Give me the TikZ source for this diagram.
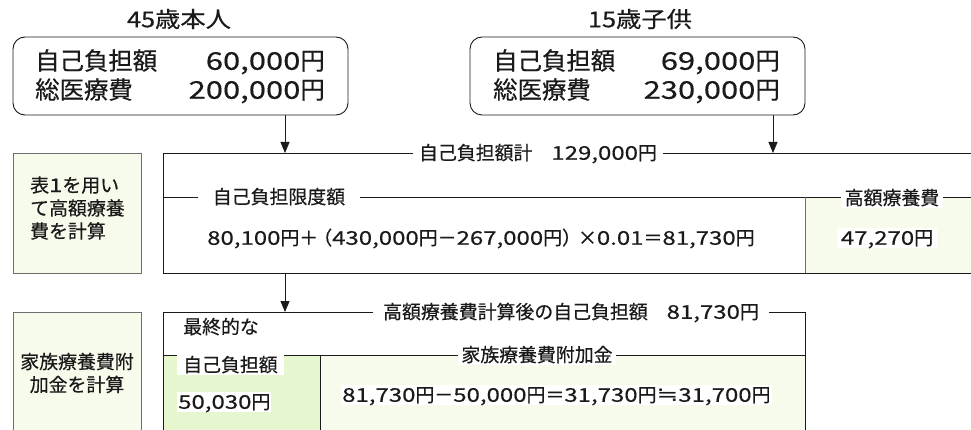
\documentclass[tikz,border=0pt]{standalone}
\usepackage{fontspec}
\setmainfont[FakeBold=0.4]{Noto Sans CJK JP}
\newfontfamily\dgfont[FakeStretch=1.27,FakeBold=0.4]{Noto Sans CJK JP}
\newfontfamily\ttlfont[FakeStretch=1.15,FakeBold=0.4]{Noto Sans CJK JP}
\newfontfamily\symfont[FakeStretch=1.3]{DejaVu Sans}
\newcommand\nm[1]{{\dgfont #1}}
\usetikzlibrary{arrows.meta}
\definecolor{lgreen}{HTML}{F7FBEC}
\definecolor{dgreen}{HTML}{E6F6CF}
\definecolor{gframe}{HTML}{6E6E6E}
\definecolor{ink}{HTML}{1A1A1A}
\begin{document}
\begin{tikzpicture}[x=1pt,y=-1pt,
  ttl/.style={font=\fontsize{22}{26}\ttlfont, inner sep=0pt, text=ink},
  big/.style={font=\fontsize{24.4}{28}\selectfont, inner sep=0pt, text height=21pt, text depth=3.5pt, text=ink},
  mid/.style={font=\fontsize{18.9}{23}\selectfont, inner sep=0pt, text height=16pt, text depth=2.5pt, text=ink},
  midml/.style={font=\fontsize{18.9}{23}\selectfont, inner sep=0pt, text=ink},
  lab/.style={mid, fill=white, inner xsep=5pt, inner ysep=1pt},
  ln/.style={draw=ink, line width=0.9pt},
  arr/.style={ln, -{Triangle[length=11pt,width=9pt]}},
  rbox/.style={ln, rounded corners=12pt, minimum width=335pt, minimum height=78pt, inner sep=0pt},
  side/.style={draw=gframe, line width=0.9pt, fill=lgreen, minimum width=128pt, inner sep=0pt, anchor=north west},
]
\useasboundingbox (0,0) rectangle (971,430);
\fill[white] (0,0) rectangle (971,430);

% top titles and boxes
\node[ttl] (t45) at (179,19) {45歳本人};
\node[ttl] (t15) at (640,19) {15歳子供};
\node[rbox] (b45) at (180.5,76) {};
\node[rbox] (b15) at (637.5,76) {};
\node[big, anchor=west] (b45a) at (35,61) {自己負担額};
\node[big, anchor=east] (b45b) at (325,61) {\nm{60,000}円};
\node[big, anchor=west] (b45c) at (35,90) {総医療費};
\node[big, anchor=east] (b45d) at (325,90) {\nm{200,000}円};
\node[big, anchor=west] (b15a) at (493,61) {自己負担額};
\node[big, anchor=east] (b15b) at (780,61) {\nm{69,000}円};
\node[big, anchor=west] (b15c) at (493,90) {総医療費};
\node[big, anchor=east] (b15d) at (780,90) {\nm{230,000}円};

% first calculation row
\node[side, minimum height=120pt] (s1) at (13,153) {};
\node[midml, align=left, anchor=west] (s1t) at (30,208) {表\nm{1}を用い\\て高額療養\\費を計算};
\fill[lgreen] (805,197) rectangle (971,273);
\draw[ln] (971,153) -- (163,153) -- (163,273) -- (971,273);
\draw[ln] (163,197) -- (971,197);
\draw[draw=gframe, line width=1pt] (805,197) -- (805,273);
\node[lab, inner xsep=6pt] (l1) at (538,153) {自己負担額計　\nm{129,000}円};
\node[lab, inner xsep=15pt] (l2) at (279,197) {自己負担限度額};
\node[lab, inner xsep=4pt] (l3) at (892,198) {高額療養費};
\node[mid, anchor=west] (f1) at (207,238) {\nm{80,100}円＋\hspace{-5pt}（\nm{430,000}円－\nm{267,000}円）\hspace{-3pt}×\nm{0.01}＝\nm{81,730}円};
\node[lab, inner xsep=4pt] (r1) at (887,238) {\nm{47,270}円};

% second calculation row
\node[side, minimum height=130pt] (s2) at (13,312) {};
\node[midml, align=center] (s2t) at (77,373) {家族療養費附\\加金を計算};
\fill[dgreen] (163,355) rectangle (320,430);
\fill[lgreen] (320,355) rectangle (805,430);
\draw[ln] (163,440) -- (163,312) -- (805,312) -- (805,440);
\draw[ln] (163,355) -- (805,355);
\draw[ln] (320,355) -- (320,440);
\node[lab, inner xsep=10pt] (l4) at (571,312) {高額療養費計算後の自己負担額　\nm{81,730}円};
\node[mid, anchor=west] (m1) at (183,327) {最終的な};
\node[lab, anchor=west, inner xsep=6pt] (m2) at (177,365) {自己負担額};
\node[lab, anchor=west, inner xsep=1pt] (m3) at (177,402) {\nm{50,030}円};
\node[lab, inner xsep=3pt] (l5) at (537,355) {家族療養費附加金};
\node[lab, anchor=west, inner xsep=1pt] (f2) at (341,395) {\nm{81,730}円－\nm{50,000}円＝\nm{31,730}円{\symfont\fontsize{20}{23}\selectfont ≒}\nm{31,700}円};

% arrows
\coordinate (a1) at (285,153);
\coordinate (a2) at (773,153);
\coordinate (a3s) at (285,273);
\coordinate (a3) at (285,312);
\draw[arr] (b45.south -| a1) -- (a1);
\draw[arr] (b15.south -| a2) -- (a2);
\draw[arr] (a3s) -- (a3);
\end{tikzpicture}
\end{document}
